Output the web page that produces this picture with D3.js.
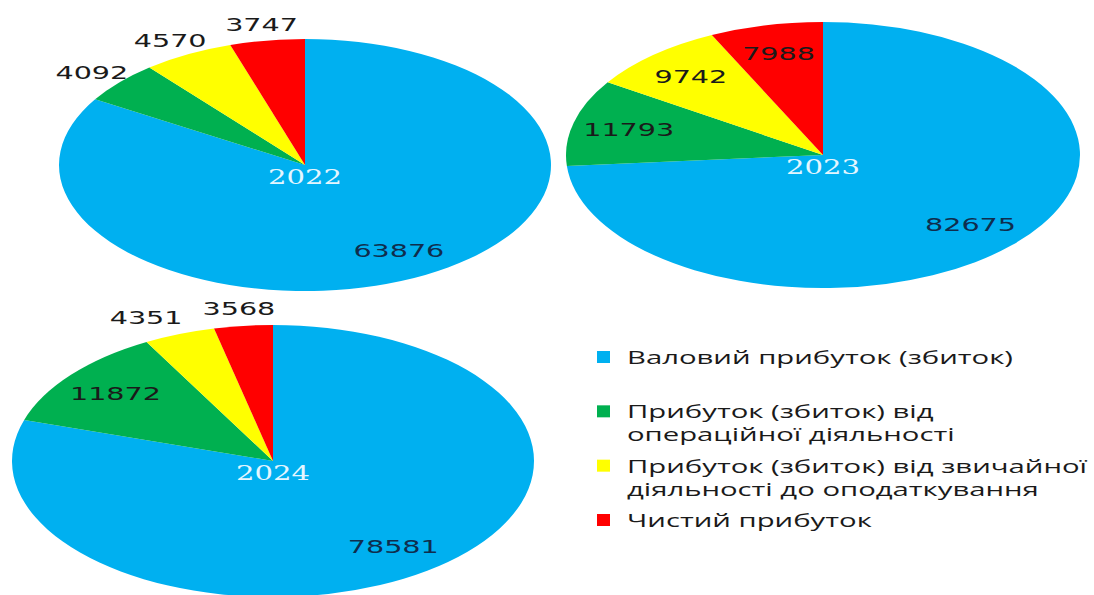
<!DOCTYPE html>
<html>
<head>
<meta charset="utf-8">
<script src="https://cdn.jsdelivr.net/npm/d3@7"></script>
<style>
  html, body { margin: 0; padding: 0; background: #fff; }
  svg { display: block; }
</style>
</head>
<body>
<div id="graph"></div>
<script>
// Data
const categories = [
  "Валовий прибуток (збиток)",
  "Прибуток (збиток) від операційної діяльності",
  "Прибуток (збиток) від звичайної діяльності до оподаткування",
  "Чистий прибуток"
];
const years = ["2022", "2023", "2024"];
const values2022 = [63876, 4092, 4570, 3747];
const values2023 = [82675, 11793, 9742, 7988];
const values2024 = [78581, 11872, 4351, 3568];
const legendLines = [
  ["Валовий прибуток (збиток)"],
  ["Прибуток (збиток) від", "операційної діяльності"],
  ["Прибуток (збиток) від звичайної", "діяльності до оподаткування"],
  ["Чистий прибуток"]
];

const colors = ["#00b0f0", "#00b050", "#ffff00", "#ff0000"];

let width = 1094;
let height = 595;

// pie layout: centre and elliptical radii of each pie (picture is stretched sideways)
const pies = [
  { year: years[0], values: values2022, cx: 305, cy: 165, rx: 246, ry: 126 },
  { year: years[1], values: values2023, cx: 823, cy: 155, rx: 257, ry: 133 },
  { year: years[2], values: values2024, cx: 273, cy: 461, rx: 261, ry: 136 }
];

var svg = d3.select("#graph")
            .append("svg")
              .attr("width", width)
              .attr("height", height);

var pie = d3.pie().sort(null).value(d => d);
var arc = d3.arc().innerRadius(0).outerRadius(100);

// fit a text element horizontally to a target width (the original is stretched)
function stretchTo(sel, target) {
  let w = sel.node().getComputedTextLength();
  return target / w;
}

// measure scale factors once
var probe = svg.append("text").attr("font-family", "DejaVu Sans").attr("font-size", 18).text("63876");
var labelSx = stretchTo(probe, 91);
probe.remove();
probe = svg.append("text").attr("font-family", "DejaVu Serif").attr("font-size", 21).text("2022");
var yearSx = stretchTo(probe, 74);
probe.remove();

pies.forEach(function (p) {
  let total = d3.sum(p.values);
  let arcs = pie(p.values);
  let g = svg.append("g");

  g.append("g")
   .attr("transform", "translate(" + p.cx + "," + p.cy + ") scale(" + p.rx / 100 + "," + p.ry / 100 + ")")
   .selectAll("path")
   .data(arcs)
   .enter()
     .append("path")
     .attr("d", arc)
     .attr("fill", (d, i) => colors[i]);

  // label positions: small slices outside the rim, others inside
  let pos = arcs.map(function (d) {
    let a = (d.startAngle + d.endAngle) / 2;
    let outside = d.value / total < 0.06;
    let r = outside ? 1.15 : 0.78;
    return {
      outside: outside,
      x: p.cx + Math.sin(a) * r * p.rx,
      y: p.cy - Math.cos(a) * r * p.ry + (outside ? 3 : 0)
    };
  });
  // push neighbouring outside labels apart when they sit on the same line
  for (let i = pos.length - 2; i >= 0; i--) {
    let a = pos[i], b = pos[i + 1];
    let minDist = String(arcs[i].value).length * 18.2 + 20;
    if (a.outside && b.outside && Math.abs(a.y - b.y) < 15 && b.x - a.x < minDist) {
      a.x = b.x - minDist;
    }
  }

  g.selectAll("text.val")
   .data(arcs)
   .enter()
     .append("text")
     .attr("class", "val")
     .attr("font-family", "DejaVu Sans")
     .attr("font-size", 18)
     .attr("text-anchor", "middle")
     .attr("dominant-baseline", "central")
     .attr("fill", (d, i) => i === 0 ? "#0f2d4d" : "#1a1a1a")
     .attr("transform", (d, i) => "translate(" + pos[i].x + "," + pos[i].y + ") scale(" + labelSx + ",1)")
     .text(d => d.value);

  g.append("text")
   .attr("font-family", "DejaVu Serif")
   .attr("font-size", 21)
   .attr("text-anchor", "middle")
   .attr("dominant-baseline", "central")
   .attr("fill", "#e4f6ff")
   .attr("transform", "translate(" + p.cx + "," + (p.cy + 12) + ") scale(" + yearSx + ",1)")
   .text(p.year);
});

// Legend
var legendY = d3.scaleLinear().domain([0, 3]).range([357, 520]);
var legend = svg.append("g");

probe = legend.append("text").attr("font-family", "Open Sans").attr("font-size", 18).text(legendLines[2][0]);
var legendSx = stretchTo(probe, 460);
probe.remove();

legendLines.forEach(function (lines, i) {
  let y0 = legendY(i);
  legend.append("rect")
        .attr("x", 597)
        .attr("y", y0 - 6)
        .attr("width", 13)
        .attr("height", 12)
        .attr("fill", colors[i]);
  lines.forEach(function (line, j) {
    legend.append("text")
          .attr("font-family", "Open Sans")
          .attr("font-size", 18)
          .attr("dominant-baseline", "central")
          .attr("fill", "#1a1a1a")
          .attr("transform", "translate(627," + (y0 + j * 23) + ") scale(" + legendSx + ",1)")
          .text(line);
  });
});
</script>
</body>
</html>
